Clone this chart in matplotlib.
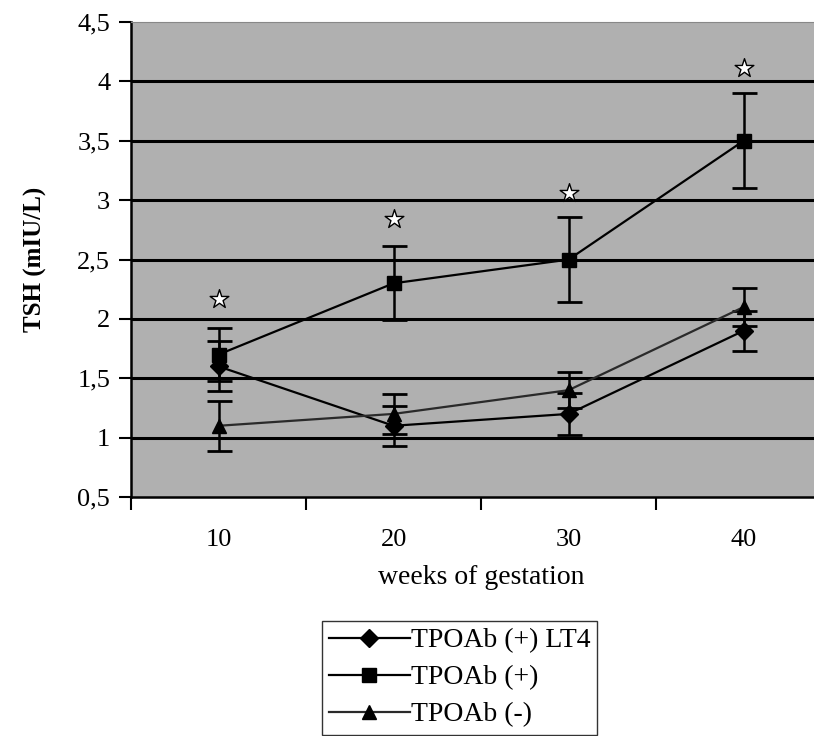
import matplotlib
matplotlib.use('Agg')
from matplotlib import pyplot as plt
import numpy as np

weeks = ['10', '20', '30', '40']
lt4 = [1.6, 1.1, 1.2, 1.9]
lt4_err = [0.21, 0.17, 0.18, 0.17]
pos = [1.7, 2.3, 2.5, 3.5]
pos_err = [0.22, 0.31, 0.36, 0.4]
neg = [1.1, 1.2, 1.4, 2.1]
neg_err = [0.21, 0.17, 0.15, 0.16]
star_y = [2.17, 2.84, 3.06, 4.11]

plt.rcParams['font.family'] = ['Liberation Serif', 'DejaVu Serif']

fig = plt.figure(figsize=(8.14, 7.36), dpi=100)
ax = fig.add_axes([0.161, 0.3247, 0.86, 0.6453])
ax.set_facecolor('#b0b0b0')

x = np.arange(len(weeks))
ax.set_xlim(-0.5, 3.5)
ax.set_ylim(0.5, 4.5)

for yv in np.arange(1.0, 4.01, 0.5):
    ax.axhline(yv, color='black', lw=2.2, zorder=1)

series = [
    (lt4, lt4_err, 'D', 'black', 'TPOAb (+) LT4', 9),
    (pos, pos_err, 's', 'black', 'TPOAb (+)', 9.5),
    (neg, neg_err, '^', '#2a2a2a', 'TPOAb (-)', 10),
]
handles = []
for vals, err, mk, col, lab, ms in series:
    ax.errorbar(x, vals, yerr=err, fmt='none', ecolor='black', elinewidth=1.8,
                capsize=9, capthick=2, zorder=3)
    h, = ax.plot(x, vals, color=col, lw=1.6, marker=mk, markersize=ms,
                 markerfacecolor='black', markeredgecolor='black', label=lab, zorder=4)
    handles.append(h)

ax.scatter(x, star_y, marker='*', s=200, facecolor='white', edgecolor='black',
           linewidths=1.0, zorder=5)

ax.set_yticks(np.arange(0.5, 4.51, 0.5))
ax.set_yticklabels(['0,5', '1', '1,5', '2', '2,5', '3', '3,5', '4', '4,5'], fontsize=19)
ax.tick_params(axis='y', direction='out', length=9, width=1.5, pad=6)

ax.set_xticks(x)
ax.set_xticklabels(weeks, fontsize=19)
ax.set_xticks(np.arange(-0.5, 3.6, 1.0), minor=True)
ax.tick_params(axis='x', which='major', length=0, pad=23)
ax.tick_params(axis='x', which='minor', direction='out', length=9, width=1.5)

for s in ['left', 'bottom']:
    ax.spines[s].set_linewidth(1.8)
    ax.spines[s].set_color('black')
ax.spines['top'].set_color('#888888')
ax.spines['right'].set_visible(False)

ax.set_ylabel('TSH (mIU/L)', fontsize=18, fontweight='bold', labelpad=22)
ax.set_xlabel('weeks of gestation', fontsize=20, labelpad=10)

fig.legend(handles=handles, loc='upper left', bbox_to_anchor=(322 / 814, 1 - 621 / 736),
           fontsize=20, frameon=True, fancybox=False, edgecolor='black',
           handlelength=2.9, handletextpad=0.05, labelspacing=0.42, borderpad=0.25,
           borderaxespad=0)

fig.savefig('out.png', dpi=100)
